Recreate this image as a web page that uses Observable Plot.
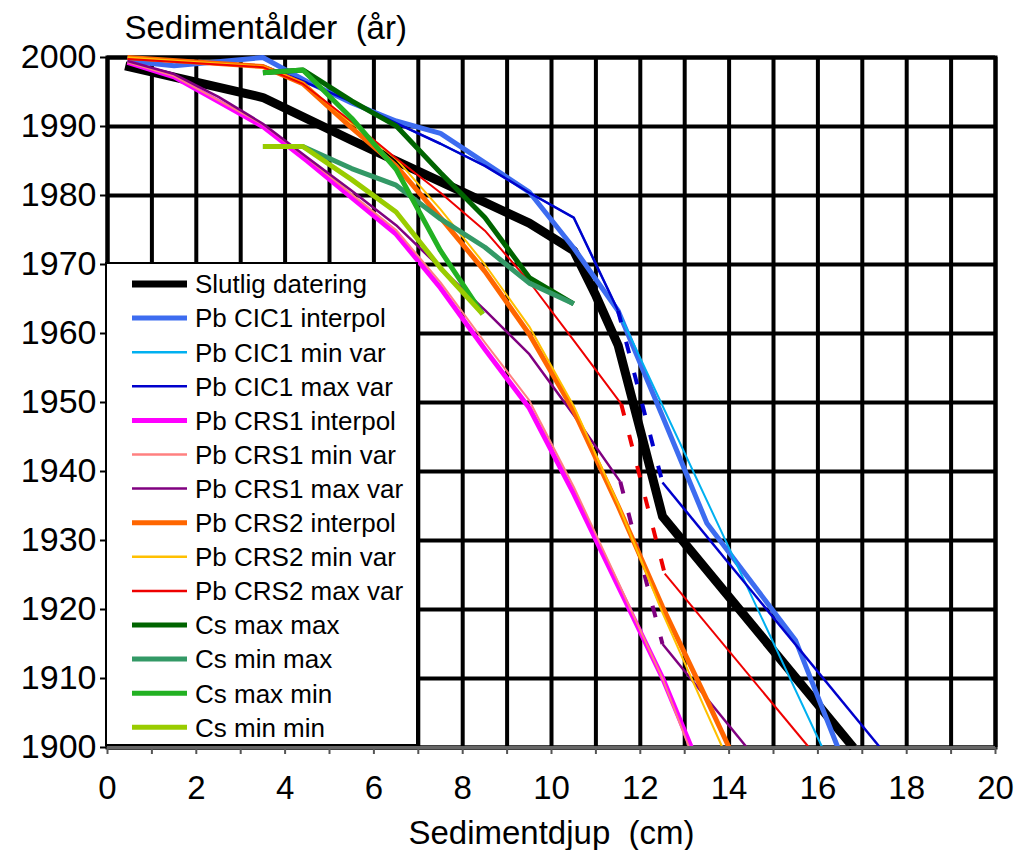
<!DOCTYPE html>
<html><head><meta charset="utf-8">
<script src="https://cdn.jsdelivr.net/npm/d3@7"></script>
<script src="https://cdn.jsdelivr.net/npm/@observablehq/plot@0.6"></script>
<style>body{margin:0;background:#fff} svg{display:block}</style>
</head><body><div id="chart"></div>
<script>
// ---- tick values ----
const depthLabels = [0, 2, 4, 6, 8, 10, 12, 14, 16, 18, 20];
const depthGrid = [0,1,2,3,4,5,6,7,8,9,10,11,12,13,14,15,16,17,18,19,20];
const yearTicks = [1900, 1910, 1920, 1930, 1940, 1950, 1960, 1970, 1980, 1990, 2000];

// ---- series: [depth (cm), year] ----
const slutlig = [[0.4,1998.8],[3.5,1994.2],[5.5,1988],[7.5,1982],[9.5,1976],[10.5,1972],[11,1965.5],[11.5,1958.3],[12,1946],[12.5,1933.5],[16.8,1900]];
const cic1Interpol = [[0.45,1999.5],[1.5,1998.8],[3.5,2000],[4.5,1996.5],[5.5,1993.4],[6.5,1990.8],[7.5,1989],[9.5,1980.5],[10.5,1972.4],[11.5,1963.3],[12.5,1948],[13.5,1932.5],[15.5,1915.5],[16.45,1900]];
const cic1Min = [[0.45,2000],[3.5,1998.8],[4.5,1996.3],[5.5,1993.6],[6.5,1990.5],[7.5,1987.5],[8.5,1984.3],[9.5,1980.4],[10.5,1976.8],[11.5,1963.3],[16.1,1900]];
const cic1MaxA = [[0.45,2000],[3.5,1998.8],[4.5,1996.3],[5.5,1993.6],[6.5,1990.5],[7.5,1987.5],[8.5,1984.3],[9.5,1980.4],[10.5,1976.8],[11.5,1963.3]];
const cic1MaxGap = [[11.5,1963.3],[12.5,1938.4]];
const cic1MaxB = [[12.5,1938.4],[17.4,1900]];
const crs1Interpol = [[0.45,1999.3],[1.5,1997.2],[2.5,1993.6],[3.5,1990],[4.5,1985],[5.5,1979.7],[6.5,1974.4],[7.5,1966.6],[8.5,1957.7],[9.5,1949.2],[10.5,1936.8],[11.5,1923.4],[12.5,1910.1],[13.15,1900]];
const crs1Min = [[0.45,1999.3],[1.5,1997.3],[2.5,1993.8],[3.5,1990.3],[4.5,1985.4],[5.5,1980.2],[6.5,1975],[7.5,1967.4],[8.5,1958.7],[9.5,1950.3],[10.5,1937.8],[11.5,1924],[12.5,1910],[13.1,1900]];
const crs1MaxA = [[0.45,1999.5],[1.5,1997.6],[2.5,1994.3],[3.5,1990.4],[4.5,1985.5],[5.5,1980.7],[6.5,1975.7],[7.5,1969.5],[8.5,1963.4],[9.5,1957],[10.5,1948.2],[11.55,1938.5]];
const crs1MaxGap = [[11.55,1938.5],[12.5,1915]];
const crs1MaxB = [[12.5,1915],[14.4,1900]];
const crs2Interpol = [[0.45,2000],[3.5,1998.7],[4.4,1996.2],[5.5,1989.8],[6.5,1984.3],[7.5,1976.8],[8.5,1969],[9.5,1959.9],[10.5,1948.8],[11.5,1935],[12.5,1920.4],[13.5,1906.9],[14.0,1900]];
const crs2Min = [[0.45,2000],[3.5,1998.7],[4.4,1996.3],[5.5,1990.5],[6.5,1985.3],[7.5,1978],[8.5,1970],[9.5,1961],[10.5,1949.5],[11.5,1935.3],[12.5,1919.5],[13.5,1905],[13.85,1900]];
const crs2MaxA = [[0.45,1999.8],[3.5,1998.6],[4.4,1996.2],[5.5,1990.7],[6.5,1985.4],[7.5,1980.4],[8.5,1974.9],[9.5,1967.5],[10.5,1959],[11.57,1949.8]];
const crs2MaxGap = [[11.57,1949.8],[12.55,1925.2]];
const crs2MaxB = [[12.55,1925.2],[15.8,1900]];
const csMaxMax = [[3.5,1997.8],[4.4,1998.2],[5.5,1993.7],[6.5,1990.1],[7.5,1983.3],[8.5,1976.8],[9.5,1968.1],[10.5,1964.3]];
const csMinMax = [[3.5,1987.1],[4.4,1987.1],[5.5,1983.9],[6.5,1981.5],[7.5,1976.6],[8.5,1972.5],[9.5,1967.3],[10.5,1964.3]];
const csMaxMin = [[3.5,1997.8],[4.4,1998.2],[5.5,1991.2],[6.5,1983.8],[7.5,1972],[8.45,1962.8]];
const csMinMin = [[3.5,1987.1],[4.4,1987.1],[5.5,1982.3],[6.5,1977.6],[7.5,1969.5],[8.45,1962.8]];

const seriesNames = ["Slutlig datering","Pb CIC1 interpol","Pb CIC1 min var","Pb CIC1 max var","Pb CRS1 interpol","Pb CRS1 min var","Pb CRS1 max var","Pb CRS2 interpol","Pb CRS2 min var","Pb CRS2 max var","Cs max max","Cs min max","Cs max min","Cs min min"];

// ---- styles ----
const style = {
  "Slutlig datering": {color: "#000000", width: 9, legendWidth: 7},
  "Pb CIC1 interpol": {color: "#3d6cf0", width: 5, legendWidth: 5},
  "Pb CIC1 min var":  {color: "#00b0f0", width: 2, legendWidth: 2.5},
  "Pb CIC1 max var":  {color: "#0000cc", width: 2.5, legendWidth: 2.5},
  "Pb CRS1 interpol": {color: "#ff00ff", width: 5, legendWidth: 5},
  "Pb CRS1 min var":  {color: "#ff8080", width: 2, legendWidth: 2.5},
  "Pb CRS1 max var":  {color: "#800080", width: 2.5, legendWidth: 2.5},
  "Pb CRS2 interpol": {color: "#ff6600", width: 5, legendWidth: 5},
  "Pb CRS2 min var":  {color: "#ffc000", width: 2, legendWidth: 2.5},
  "Pb CRS2 max var":  {color: "#ee0000", width: 2, legendWidth: 2.5},
  "Cs max max":       {color: "#006400", width: 5, legendWidth: 5},
  "Cs min max":       {color: "#339966", width: 5, legendWidth: 5},
  "Cs max min":       {color: "#22b122", width: 5, legendWidth: 5},
  "Cs min min":       {color: "#99cc00", width: 5, legendWidth: 5}
};

const segments = [
  ["Slutlig datering", slutlig, false],
  ["Pb CIC1 interpol", cic1Interpol, false],
  ["Pb CIC1 min var", cic1Min, false],
  ["Pb CIC1 max var", cic1MaxA, false],
  ["Pb CIC1 max var", cic1MaxGap, true],
  ["Pb CIC1 max var", cic1MaxB, false],
  ["Pb CRS1 interpol", crs1Interpol, false],
  ["Pb CRS1 min var", crs1Min, false],
  ["Pb CRS1 max var", crs1MaxA, false],
  ["Pb CRS1 max var", crs1MaxGap, true],
  ["Pb CRS1 max var", crs1MaxB, false],
  ["Pb CRS2 interpol", crs2Interpol, false],
  ["Pb CRS2 min var", crs2Min, false],
  ["Pb CRS2 max var", crs2MaxA, false],
  ["Pb CRS2 max var", crs2MaxGap, true],
  ["Pb CRS2 max var", crs2MaxB, false],
  ["Cs max max", csMaxMax, false],
  ["Cs min max", csMinMax, false],
  ["Cs max min", csMaxMin, false],
  ["Cs min min", csMinMin, false]
];

const lineMarks = segments.map(([name, data, dashed]) => Plot.line(data, {
  x: d => d[0], y: d => d[1],
  stroke: style[name].color,
  strokeWidth: dashed ? 4 : style[name].width,
  strokeDasharray: dashed ? "12,20" : null,
  strokeLinecap: "butt", strokeLinejoin: "round"
}));

const FONT = "'Liberation Sans', Arial, Helvetica, sans-serif";

const svg = Plot.plot({
  width: 1018, height: 850,
  marginLeft: 107, marginRight: 23, marginTop: 57, marginBottom: 103,
  x: {domain: [0, 20]},
  y: {domain: [1900, 2000]},
  style: {fontFamily: FONT, fontSize: "33px", background: "#fff", color: "#000"},
  marks: [
    Plot.gridX(depthGrid, {stroke: "#000", strokeOpacity: 1, strokeWidth: 4}),
    Plot.gridY(yearTicks, {stroke: "#000", strokeOpacity: 1, strokeWidth: 4}),
    Plot.frame({stroke: "#000", strokeWidth: 4}),
    Plot.axisY(yearTicks, {tickSize: 7, tickPadding: 4, tickFormat: d => String(d), fontSize: 34, label: null, strokeWidth: 2}),
    Plot.axisX(depthGrid, {tickSize: 7, tickFormat: () => "", label: null, stroke: "#555", strokeWidth: 2}),
    Plot.axisX(depthLabels, {tickSize: 0, tickPadding: 28, tickFormat: d => String(d), fontSize: 33, label: null}),
    ...lineMarks,
    Plot.ruleY([1900], {stroke: "#666", strokeWidth: 3}),
    Plot.text(["Sedimentålder\u00a0 (år)"], {text: d => d, frameAnchor: "top-left", dx: 17, dy: -19, textAnchor: "start", lineAnchor: "bottom", fontSize: 33}),
    Plot.text(["Sedimentdjup\u00a0 (cm)"], {text: d => d, frameAnchor: "bottom", dy: 96, lineAnchor: "bottom", fontSize: 33})
  ]
});

// ---- legend (inside plot area, lower left) ----
const g = d3.select(svg).append("g")
  .attr("font-family", FONT).attr("font-size", 26).attr("text-anchor", "start");
g.append("rect").attr("x", 106).attr("y", 263).attr("width", 311).attr("height", 482)
  .attr("fill", "#fff").attr("stroke", "#000").attr("stroke-width", 2);
seriesNames.forEach((name, i) => {
  const y = 284 + i * 34.1;
  g.append("line").attr("x1", 132).attr("x2", 187).attr("y1", y).attr("y2", y)
    .attr("stroke", style[name].color).attr("stroke-width", style[name].legendWidth);
  g.append("text").attr("x", 195).attr("y", y).attr("dy", "0.36em")
    .attr("text-anchor", "start").attr("fill", "#000").text(name);
});

document.getElementById("chart").appendChild(svg);
</script>
</body></html>
